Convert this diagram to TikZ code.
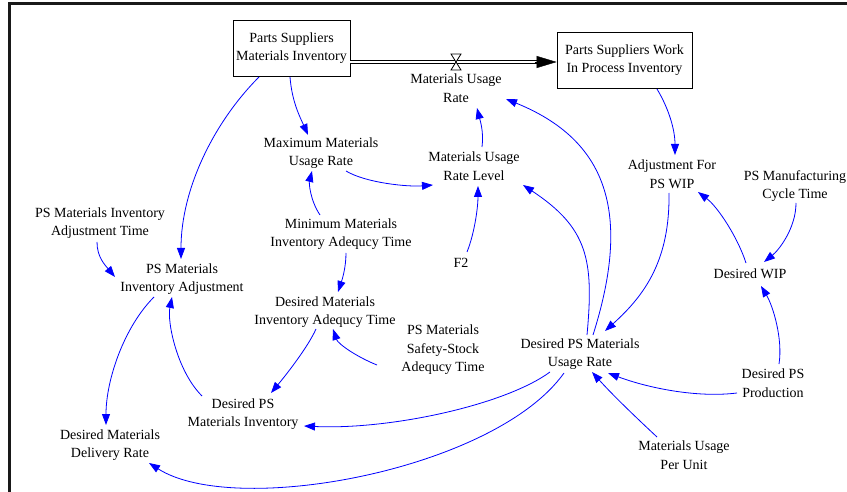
\documentclass[tikz,border=0pt]{standalone}
\usepackage{fontspec}
\setmainfont{Liberation Serif}
\usetikzlibrary{arrows.meta}
\begin{document}
\begin{tikzpicture}[x=1pt,y=-1pt,
  lbl/.style={align=center,inner sep=0pt,font=\fontsize{14}{18.5}\selectfont},
  stock/.style={draw=black,line width=0.8pt,fill=white,align=center,inner sep=0pt,font=\fontsize{14}{18.5}\selectfont},
  lnk/.style={draw=blue,line width=0.8pt,-{Triangle[length=11pt,width=8pt]}},
  pipe/.style={draw=black,double=white,double distance=2.6pt,line width=0.8pt},
  valvestyle/.style={draw=black,fill=white,line width=0.8pt}]
\useasboundingbox (0,0) rectangle (847,492);
\fill[white] (0,0) rectangle (847,492);
% frame
\draw[line width=2.6pt,black!90] (9.5,492) -- (9.5,3.5) -- (847,3.5);

% stocks
\node[stock,minimum width=117pt,minimum height=56pt] (s1) at (291.5,48) {Parts Suppliers\\Materials Inventory};
\node[stock,minimum width=135pt,minimum height=56pt] (s2) at (624.5,60) {Parts Suppliers Work\\In Process Inventory};

% variables
\node[lbl] (mur) at (456,88) {Materials Usage\\Rate};
\node[lbl] (mmur) at (321,153) {Maximum Materials\\Usage Rate};
\node[lbl] (murl) at (474,166) {Materials Usage\\Rate Level};
\node[lbl] (mmiat) at (341,234) {Minimum Materials\\Inventory Adequcy Time};
\node[lbl] (psmiat) at (100,223) {PS Materials Inventory\\Adjustment Time};
\node[lbl] (psmia) at (182,279) {PS Materials\\Inventory Adjustment};
\node[lbl] (f2) at (461,263) {F2};
\node[lbl] (afpw) at (672,174) {Adjustment For\\PS WIP};
\node[lbl] (psmct) at (795,186) {PS Manufacturing\\Cycle Time};
\node[lbl] (dwip) at (750,274) {Desired WIP};
\node[lbl] (dmiat) at (325,312) {Desired Materials\\Inventory Adequcy Time};
\node[lbl] (psssat) at (443,350) {PS Materials\\Safety-Stock\\Adequcy Time};
\node[lbl] (dpsmur) at (580,354) {Desired PS Materials\\Usage Rate};
\node[lbl] (dpsp) at (773,383) {Desired PS\\Production};
\node[lbl] (dpsmi) at (243,414) {Desired PS\\Materials Inventory};
\node[lbl] (dmdr) at (110,445) {Desired Materials\\Delivery Rate};
\node[lbl] (mupu) at (684,455) {Materials Usage\\Per Unit};

% flow pipe
\coordinate (pstart) at ([shift={(0,14)}]s1.east);
\coordinate (pend) at ([shift={(0,2)}]s2.west);
\draw[pipe,shorten >=19pt] (pstart) -- (pend);
\draw[draw=black,line width=0.4pt,-{Triangle[length=20pt,width=12pt]}] ([shift={(-22,0)}]pend) -- (pend);
\coordinate (valve) at (456,62);
\draw[valvestyle] ([shift={(-5,-8)}]valve) -- ([shift={(5,-8)}]valve) -- (valve) -- cycle;
\draw[valvestyle] ([shift={(-5,8)}]valve) -- ([shift={(5,8)}]valve) -- (valve) -- cycle;

% links
\draw[lnk] ([shift={(-32.5,29)}]s1.center) .. controls +(-45,45) and +(0,-70) .. ([shift={(-1,-20)}]psmia.center);
\draw[lnk] ([shift={(-1.5,29)}]s1.center) .. controls +(2,25) and +(-8,-18) .. ([shift={(-13,-18)}]mmur.center);
\draw[lnk] ([shift={(25,18)}]mmur.center) .. controls +(20,12) and +(-25,2) .. ([shift={(-41,19)}]murl.center);
\draw[lnk] ([shift={(-21,-19)}]mmiat.center) .. controls +(-10,-15) and +(-3,12) .. ([shift={(-9,18)}]mmur.center);
\draw[lnk] ([shift={(5,19)}]mmiat.center) .. controls +(0,15) and +(4,-12) .. ([shift={(13,-20)}]dmiat.center);
\draw[lnk] ([shift={(8,-19)}]murl.center) .. controls +(2,-15) and +(3,12) .. ([shift={(21,20)}]mur.center);
\draw[lnk] ([shift={(6,-11)}]f2.center) .. controls +(8,-20) and +(0,20) .. ([shift={(4,20)}]murl.center);
\draw[lnk] ([shift={(13,-19)}]dpsmur.center) .. controls +(39,-123) and +(101,41) .. ([shift={(50,11)}]mur.center);
\draw[lnk] ([shift={(7,-19)}]dpsmur.center) .. controls +(7,-75) and +(65,43) .. ([shift={(49,19)}]murl.center);
\draw[lnk] ([shift={(32.5,29)}]s2.center) .. controls +(12,20) and +(0,-25) .. ([shift={(3,-19)}]afpw.center);
\draw[lnk] ([shift={(-3,19)}]afpw.center) .. controls +(1,67) and +(40,-36) .. ([shift={(25,-23)}]dpsmur.center);
\draw[lnk] ([shift={(-4,-11)}]dwip.center) .. controls +(-8,-25) and +(20,15) .. ([shift={(26,18)}]afpw.center);
\draw[lnk] ([shift={(1,17)}]psmct.center) .. controls +(0,25) and +(15,-12) .. ([shift={(14,-12)}]dwip.center);
\draw[lnk] ([shift={(6,-19)}]dpsp.center) .. controls +(4,-25) and +(12,20) .. ([shift={(11,12)}]dwip.center);
\draw[lnk] ([shift={(-36,10)}]dpsp.center) .. controls +(-40,5) and +(40,15) .. ([shift={(28,19)}]dpsmur.center);
\draw[lnk] ([shift={(-27,-18)}]mupu.center) .. controls +(-30,-28) and +(18,20) .. ([shift={(12,18)}]dpsmur.center);
\draw[lnk] ([shift={(-30,18)}]dpsmur.center) .. controls +(-45,33) and +(86,4) .. ([shift={(61,12)}]dpsmi.center);
\draw[lnk] ([shift={(-16,19)}]dpsmur.center) .. controls +(-69,97) and +(86,55) .. ([shift={(39,18)}]dmdr.center);
\draw[lnk] ([shift={(-66,15)}]psssat.center) .. controls +(-20,-8) and +(5,15) .. ([shift={(8,17)}]dmiat.center);
\draw[lnk] ([shift={(-9,17)}]dmiat.center) .. controls +(-8,18) and +(15,-18) .. ([shift={(28,-21)}]dpsmi.center);
\draw[lnk] ([shift={(-41,-18)}]dpsmi.center) .. controls +(-25,-25) and +(-5,25) .. ([shift={(-10,18)}]psmia.center);
\draw[lnk] ([shift={(-28,18)}]psmia.center) .. controls +(-30,30) and +(0,-45) .. ([shift={(-4,-20)}]dmdr.center);
\draw[lnk] ([shift={(-3,19)}]psmiat.center) .. controls +(0,15) and +(-10,-12) .. ([shift={(-67,-2)}]psmia.center);
\end{tikzpicture}
\end{document}
